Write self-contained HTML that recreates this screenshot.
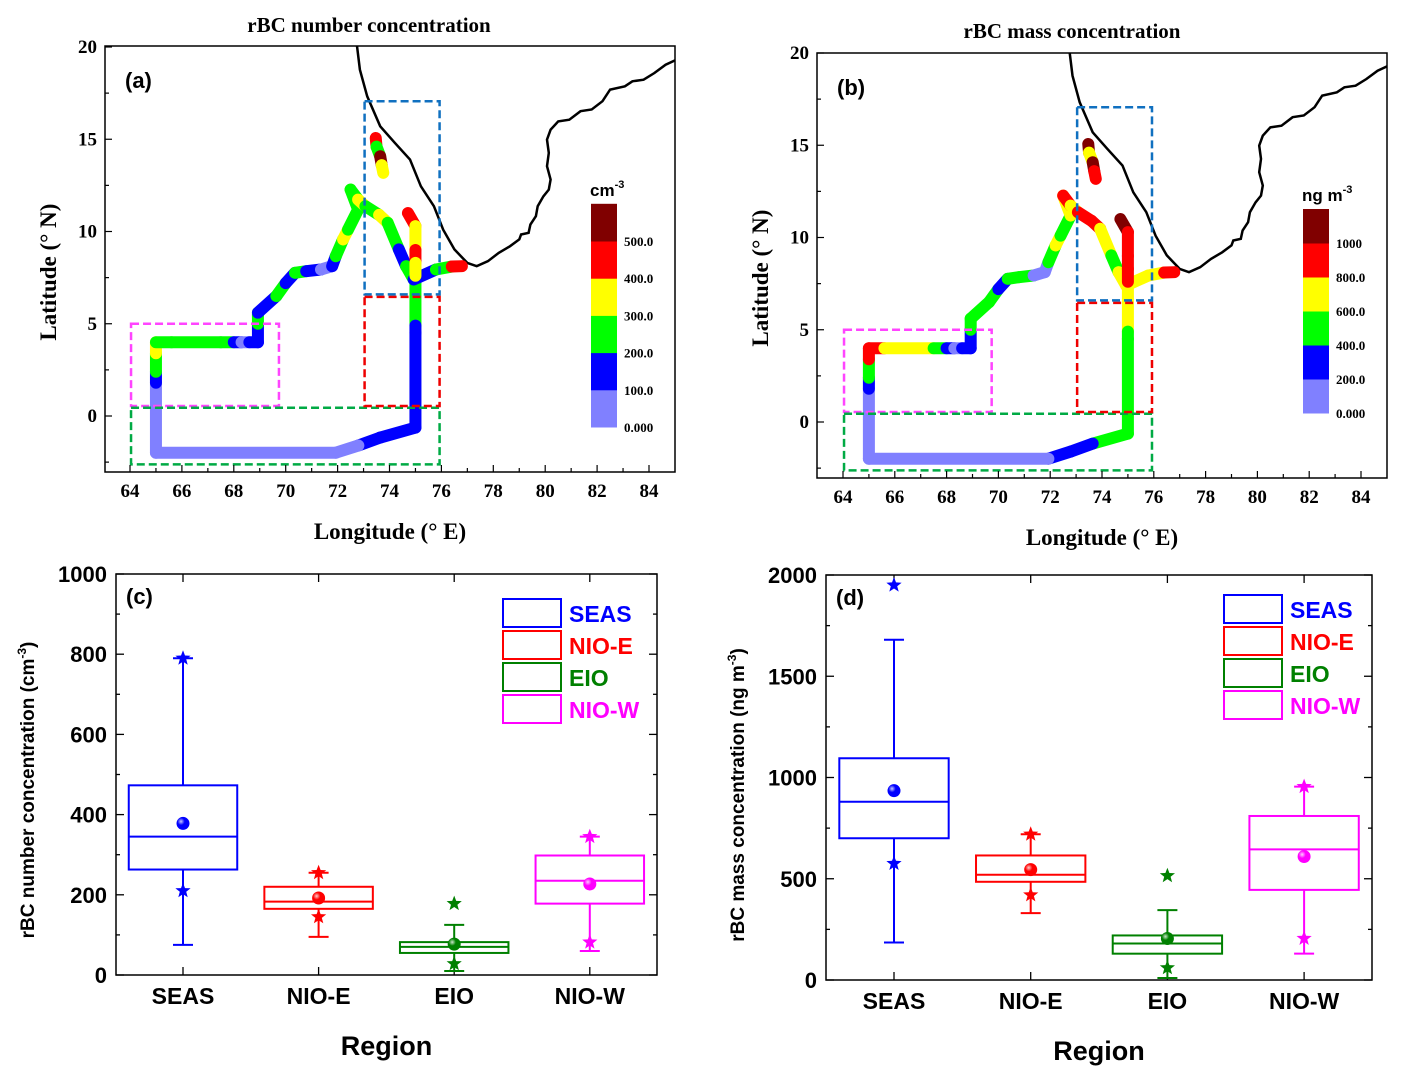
<!DOCTYPE html>
<html><head><meta charset="utf-8"><style>
html,body{margin:0;padding:0;background:#fff;}
svg{display:block;}
.serif{font-family:"Liberation Serif",serif;font-weight:bold;}
.sans{font-family:"Liberation Sans",sans-serif;font-weight:bold;}
</style></head><body>
<svg id="fig" width="1401" height="1073" viewBox="0 0 1401 1073" xmlns="http://www.w3.org/2000/svg">
<defs>
<clipPath id="clipA"><rect x="105" y="46" width="570" height="426"/></clipPath>
<clipPath id="clipB"><rect x="817" y="53" width="570" height="425"/></clipPath>
<radialGradient id="shine" cx="0.35" cy="0.35" r="0.7"><stop offset="0" stop-color="#fff" stop-opacity="0.8"/><stop offset="0.4" stop-color="#fff" stop-opacity="0"/></radialGradient>
</defs>
</svg>
<script>
// ---------- Map data ----------
const coastLon=[72.71,72.86,73.14,73.64,74.21,74.79,75.21,75.71,76.07,76.5,77.0,77.36,77.79,78.21,78.64,79.0,79.07,79.36,79.43,79.64,79.71,79.93,80.14,80.21,80.07,80.14,80.07,80.21,80.5,80.93,81.36,81.79,82.21,82.5,83.07,83.36,83.79,84.21,84.64,85.2];
const coastLat=[20.5,18.77,17.33,15.7,14.8,13.9,12.45,11.37,10.1,9.03,8.3,8.12,8.39,8.84,9.2,9.57,9.84,9.93,10.38,10.83,11.37,11.91,12.27,12.82,13.54,14.26,14.98,15.52,15.97,16.06,16.52,16.61,17.06,17.69,17.87,18.14,18.23,18.59,19.04,19.4];
// track (NaN = pen up)
const trackLon=[75.0,75.0,75.0,75.0,73.64,72.8,71.93,65.0,65.0,65.0,65.0,65.0,65.0,65.6,67.5,68.0,68.3,68.6,68.93,68.93,68.93,69.64,70.0,70.36,70.79,71.36,71.79,71.93,72.21,72.4,72.79,72.5,72.79,73.07,73.6,73.93,74.36,74.64,74.93,NaN,74.93,75.79,76.4,76.79,NaN,74.71,75.0,75.0,75.0,75.0,NaN,73.47,73.5,73.64,73.7,73.76];
const trackLat=[7.4,4.9,4.5,-0.63,-1.17,-1.6,-1.99,-1.99,0.5,1.8,2.4,3.4,4.0,4.0,4.0,4.0,4.0,4.0,4.0,5.0,5.6,6.5,7.2,7.76,7.85,7.94,8.12,8.66,9.57,10.1,11.19,12.27,11.73,11.37,10.9,10.47,9.03,8.12,7.4,NaN,7.4,7.94,8.1,8.12,NaN,11.0,10.29,9.0,8.3,7.6,NaN,15.07,14.6,14.08,13.6,13.18];
// rBC number concentration (cm^-3) at each track point
const numVal=[250,150,150,150,150,50,50,50,50,150,250,350,250,250,250,150,50,150,150,250,150,250,150,250,150,50,150,250,350,250,250,250,350,250,350,250,150,250,250,NaN,150,250,450,250,NaN,450,350,450,350,350,NaN,450,250,550,350,350];
// rBC mass concentration (ng m^-3)
const massVal=[700,500,500,500,300,300,100,100,100,300,500,900,900,700,500,300,100,300,300,500,500,500,300,500,500,100,100,500,700,500,700,900,700,900,900,700,500,700,700,NaN,700,700,900,700,NaN,1100,900,900,900,700,NaN,1100,700,1100,900,900];
const bandColors=["#8080ff","#0000ff","#00ff00","#ffff00","#ff0000","#800000"];
const numBandLabels=["0.000","100.0","200.0","300.0","400.0","500.0"];
const massBandLabels=["0.000","200.0","400.0","600.0","800.0","1000"];
const lonTicks=[64,66,68,70,72,74,76,78,80,82,84];
const latTicks=[0,5,10,15,20];

// ---------- Box data ----------
const regions=["SEAS","NIO-E","EIO","NIO-W"];
const regionColors=["#0000ff","#ff0000","#008000","#ff00ff"];
const cQ1=[263,165,55,178], cQ3=[473,220,82,298], cMed=[345,183,70,235], cMean=[378,192,77,227];
const cWlo=[75,95,10,60], cWhi=[790,255,125,345], cStarLo=[210,145,28,82], cStarHi=[790,255,178,345];
const dQ1=[700,485,130,445], dQ3=[1095,615,220,810], dMed=[880,520,180,645], dMean=[935,545,205,610];
const dWlo=[185,330,10,130], dWhi=[1680,720,345,955], dStarLo=[575,420,60,205], dStarHi=[1950,720,515,955];
const cTicks=[0,200,400,600,800,1000];
const dTicks=[0,500,1000,1500,2000];

const NS="http://www.w3.org/2000/svg";
const svg=document.getElementById('fig');
function mk(tag,attrs,parent){const e=document.createElementNS(NS,tag);for(const k in attrs)e.setAttribute(k,attrs[k]);(parent||svg).appendChild(e);return e;}
function txt(x,y,s,cls,size,anchor,fill,parent){const t=mk('text',{x:x,y:y,'font-size':size,'text-anchor':anchor||'middle',fill:fill||'#000',class:cls},parent);t.textContent=s;return t;}

function drawMap(cfg){
  const X=l=>cfg.x0+(l-64)*cfg.sx, Y=l=>cfg.y0-l*cfg.sy;
  const g=mk('g',{});
  
  
  const tt=txt(cfg.titleX,cfg.titleY,cfg.title,'serif',21,'middle','#000',g);
  
  
  const cg=mk('g',{'clip-path':cfg.clip},g);
  let d='';coastLon.forEach((l,i)=>{d+=(i?'L':'M')+X(l).toFixed(1)+' '+Y(coastLat[i]).toFixed(1);});
  const coast=mk('path',{d:d,fill:'none',stroke:'#000','stroke-width':2.5},cg);
  
  
  const vals=cfg.vals;
  for(let i=0;i<trackLon.length-1;i++){
    if(isNaN(trackLon[i])||isNaN(trackLon[i+1]))continue;
    const band=Math.max(0,Math.min(5,Math.floor(vals[i]/cfg.step)));
    const s=mk('line',{x1:X(trackLon[i]),y1:Y(trackLat[i]),x2:X(trackLon[i+1]),y2:Y(trackLat[i+1]),stroke:bandColors[band],'stroke-width':12,'stroke-linecap':'round'},cg);
    
    
  }
  const boxes=[[64.04,69.74,0.54,5.0,'#ff44ff','nio-w-box'],[64.04,75.93,-2.62,0.45,'#00aa44','eio-box'],[73.04,75.93,0.54,6.46,'#ee0000','nio-e-box'],[73.04,75.93,6.59,17.06,'#1070c0','seas-box']];
  boxes.forEach(b=>{
    const r=mk('rect',{x:X(b[0]),y:Y(b[3]),width:X(b[1])-X(b[0]),height:Y(b[2])-Y(b[3]),fill:'none',stroke:b[4],'stroke-width':2.5,'stroke-dasharray':'8,4'},g);
    
    
  });
  const fr=mk('rect',{x:cfg.fx,y:cfg.fy,width:cfg.fw,height:cfg.fh,fill:'none',stroke:'#000','stroke-width':1.5},g);
  
  
  for(let l=64;l<=84;l++){const x=X(l);mk('line',{x1:x,y1:cfg.fy+cfg.fh,x2:x,y2:cfg.fy+cfg.fh-(l%2?4:7),stroke:'#000','stroke-width':1.2},g);}
  lonTicks.forEach(l=>{const t=txt(X(l),cfg.fy+cfg.fh+25,String(l),'serif',19,'middle','#000',g);});
  for(let v=-2.5;v<=20;v+=2.5){const y=Y(v);if(y<cfg.fy||y>cfg.fy+cfg.fh)continue;mk('line',{x1:cfg.fx,y1:y,x2:cfg.fx+(v%5?4:7),y2:y,stroke:'#000','stroke-width':1.2},g);}
  latTicks.forEach(v=>{const t=txt(cfg.fx-8,Y(v)+6,String(v),'serif',19,'end','#000',g);});
  const xl=txt(cfg.fx+cfg.fw/2,cfg.fy+cfg.fh+67,'Longitude (° E)','serif',23,'middle','#000',g);
  
  const yl=txt(0,0,'Latitude (° N)','serif',23,'middle','#000',g);
  yl.setAttribute('transform','translate('+(cfg.fx-49)+','+(Y(7.8))+') rotate(-90)');
  
  const pl=txt(cfg.fx+20,cfg.fy+42,cfg.panel,'sans',22,'start','#000',g);
  
  const cb=mk('g',{},g);
  
  
  for(let i=0;i<6;i++){
    mk('rect',{x:cfg.cbx,y:cfg.cbBottom-(i+1)*cfg.cbh,width:26,height:cfg.cbh+0.5,fill:bandColors[i]},cb);
    const lt=txt(cfg.cbx+33,cfg.cbBottom-i*cfg.cbh+5,cfg.bandLabels[i],'serif',13,'start','#000',cb);
    
  }
  const un=mk('text',{x:cfg.cbx-1,y:cfg.cbBottom-6*cfg.cbh-8,'font-size':17,class:'sans'},cb);
  un.innerHTML=cfg.unit+'<tspan font-size="11" dy="-8">-3</tspan>';
  
}

drawMap({name:'map-number-concentration',x0:130,sx:25.95,y0:416,sy:18.45,fx:105,fy:46,fw:570,fh:426,clip:'url(#clipA)',vals:numVal,step:100,
  title:'rBC number concentration',titleX:369,titleY:32,panel:'(a)',cbx:591,cbBottom:427,cbh:37.2,bandLabels:numBandLabels,unit:'cm'});
drawMap({name:'map-mass-concentration',x0:843,sx:25.9,y0:422,sy:18.45,fx:817,fy:53,fw:570,fh:425,clip:'url(#clipB)',vals:massVal,step:200,
  title:'rBC  mass concentration',titleX:1072,titleY:38,panel:'(b)',cbx:1303,cbBottom:413,cbh:34,bandLabels:massBandLabels,unit:'ng m'});

function star(cx,cy,r,color,parent){
  let p='';for(let i=0;i<10;i++){const a=-Math.PI/2+i*Math.PI/5;const rr=i%2?r*0.42:r;p+=(cx+rr*Math.cos(a)).toFixed(1)+','+(cy+rr*Math.sin(a)).toFixed(1)+' ';}
  return mk('polygon',{points:p,fill:color},parent);
}

function drawBox(cfg){
  const g=mk('g',{});
  
  
  const Y=v=>cfg.y0-(v/cfg.ymax)*(cfg.y0-cfg.y1);
  const X=i=>cfg.xc0+i*cfg.dx;
  const bw=cfg.dx*0.8;
  const fr=mk('rect',{x:cfg.fx,y:cfg.y1,width:cfg.fw,height:cfg.y0-cfg.y1,fill:'none',stroke:'#000','stroke-width':1.5},g);
  
  for(let v=0;v<=cfg.ymax;v+=cfg.minor){const y=Y(v);const major=(v%cfg.major===0);
    mk('line',{x1:cfg.fx,y1:y,x2:cfg.fx+(major?8:4),y2:y,stroke:'#000','stroke-width':1.3},g);
    mk('line',{x1:cfg.fx+cfg.fw,y1:y,x2:cfg.fx+cfg.fw-(major?8:4),y2:y,stroke:'#000','stroke-width':1.3},g);}
  cfg.ticks.forEach(v=>{const t=txt(cfg.fx-9,Y(v)+8,String(v),'sans',22,'end','#000',g);});
  regions.forEach((r,i)=>{
    mk('line',{x1:X(i),y1:cfg.y0,x2:X(i),y2:cfg.y0-8,stroke:'#000','stroke-width':1.3},g);
    mk('line',{x1:X(i),y1:cfg.y1,x2:X(i),y2:cfg.y1+8,stroke:'#000','stroke-width':1.3},g);
    const t=txt(X(i),cfg.y0+29,r,'sans',23,'middle','#000',g);
  });
  const xt=txt(cfg.fx+cfg.fw/2,cfg.y0+80,'Region','sans',27,'middle','#000',g);
  
  const yt=mk('text',{'font-size':19,class:'sans','text-anchor':'middle',transform:'translate('+cfg.ytx+','+cfg.yty+') rotate(-90)'},g);
  yt.innerHTML=cfg.ytitle+'<tspan font-size="12" dy="-8">-3</tspan><tspan dy="8">)</tspan>';
  
  const pl=txt(cfg.fx+10,cfg.y1+30,cfg.panel,'sans',22,'start','#000',g);
  
  regions.forEach((r,i)=>{
    const c=regionColors[i], x=X(i);
    const bg=mk('g',{},g);
    
    
    mk('line',{x1:x,y1:Y(cfg.wlo[i]),x2:x,y2:Y(cfg.q1[i]),stroke:c,'stroke-width':2},bg);
    mk('line',{x1:x,y1:Y(cfg.q3[i]),x2:x,y2:Y(cfg.whi[i]),stroke:c,'stroke-width':2},bg);
    mk('line',{x1:x-10,y1:Y(cfg.wlo[i]),x2:x+10,y2:Y(cfg.wlo[i]),stroke:c,'stroke-width':2},bg);
    mk('line',{x1:x-10,y1:Y(cfg.whi[i]),x2:x+10,y2:Y(cfg.whi[i]),stroke:c,'stroke-width':2},bg);
    mk('rect',{x:x-bw/2,y:Y(cfg.q3[i]),width:bw,height:Y(cfg.q1[i])-Y(cfg.q3[i]),fill:'none',stroke:c,'stroke-width':2},bg);
    mk('line',{x1:x-bw/2,y1:Y(cfg.med[i]),x2:x+bw/2,y2:Y(cfg.med[i]),stroke:c,'stroke-width':2},bg);
    mk('circle',{cx:x,cy:Y(cfg.mean[i]),r:6.5,fill:c},bg);
    mk('circle',{cx:x,cy:Y(cfg.mean[i]),r:6.5,fill:'url(#shine)'},bg);
    star(x,Y(cfg.slo[i]),8,c,bg);
    star(x,Y(cfg.shi[i]),8,c,bg);
  });
  regions.forEach((r,i)=>{
    const lg=mk('g',{},g);
    
    
    mk('rect',{x:cfg.lx,y:cfg.ly+i*32,width:58,height:28,fill:'none',stroke:regionColors[i],'stroke-width':2},lg);
    txt(cfg.lx+66,cfg.ly+i*32+23,r,'sans',23,'start',regionColors[i],lg);
  });
}

drawBox({name:'boxplot-number',fx:116,fw:541,y0:975,y1:574,ymax:1000,minor:100,major:200,ticks:cTicks,xc0:183,dx:135.6,
  q1:cQ1,q3:cQ3,med:cMed,mean:cMean,wlo:cWlo,whi:cWhi,slo:cStarLo,shi:cStarHi,panel:'(c)',lx:503,ly:599,
  ytitle:'rBC number concentration (cm',ytx:34,yty:790});
drawBox({name:'boxplot-mass',fx:826,fw:546,y0:980,y1:575,ymax:2000,minor:250,major:500,ticks:dTicks,xc0:894,dx:136.7,
  q1:dQ1,q3:dQ3,med:dMed,mean:dMean,wlo:dWlo,whi:dWhi,slo:dStarLo,shi:dStarHi,panel:'(d)',lx:1224,ly:595,
  ytitle:'rBC mass concentration (ng m',ytx:744,yty:795});
</script>
</body></html>
